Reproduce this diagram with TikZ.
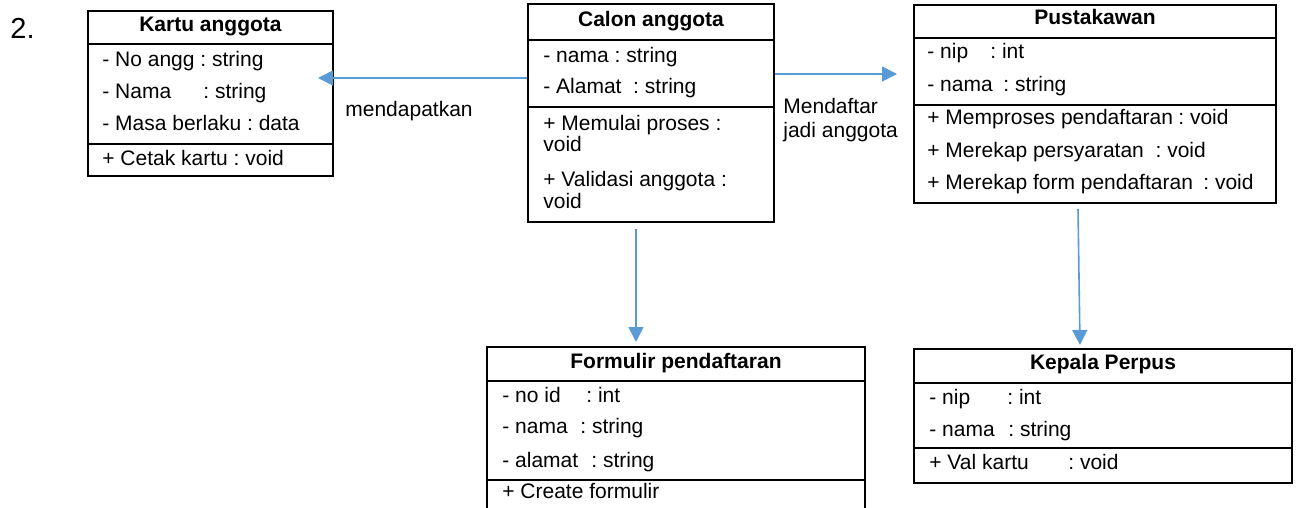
\documentclass[tikz,border=0pt]{standalone}
\usepackage{fontspec}
\setmainfont{Liberation Sans}
\usetikzlibrary{fit,calc,arrows.meta}
\definecolor{linkblue}{HTML}{5B9BD5}
\begin{document}
\frenchspacing
\begin{tikzpicture}[x=0.5pt,y=-0.5pt,
  font=\fontsize{10.5}{12}\selectfont,
  classbox/.style={draw=black, line width=1pt, inner sep=0pt},
  divider/.style={draw=black, line width=1pt},
  row/.style={anchor=base west, inner sep=0pt},
  title/.style={anchor=base, inner sep=0pt, font=\fontsize{10.5}{12}\selectfont\bfseries},
  link/.style={draw=linkblue, line width=0.8pt, -{Triangle[length=7.5pt,width=7.5pt]}},
  note/.style={anchor=base west, inner sep=0pt}
]
\useasboundingbox (0,0) rectangle (1306,508);
\clip (0,0) rectangle (1306,508);

\node[anchor=base west, inner sep=0pt, font=\fontsize{14.5}{16}\selectfont] (num) at (10,39) {2.};

% Kartu anggota
\node[classbox, fit={(88,11) (333,176)}] (kartu) {};
\draw[divider] (kartu.west |- 0,44) -- (kartu.east |- 0,44);
\draw[divider] (kartu.west |- 0,144) -- (kartu.east |- 0,144);
\node[title] (kartuT) at (210.5,32) {Kartu anggota};
\node[row] (kartuA) at (102,67) {- No angg : string};
\node[row] (kartuB) at (102,98) {\makebox[50.5pt][l]{- Nama}: string};
\node[row] (kartuC) at (102,131) {- Masa berlaku : data};
\node[row] (kartuD) at (102,165) {+ Cetak kartu : void};

% Calon anggota
\node[classbox, fit={(528,4) (774,222)}] (calon) {};
\draw[divider] (calon.west |- 0,40) -- (calon.east |- 0,40);
\draw[divider] (calon.west |- 0,107) -- (calon.east |- 0,107);
\node[title] (calonT) at (651,27) {Calon anggota};
\node[row] (calonA) at (543,63) {- nama : string};
\node[row] (calonB) at (543,94) {- Alamat\ \ : string};
\node[row] (calonC) at (543,131) {+ Memulai proses :};
\node[row] (calonD) at (543,152) {void};
\node[row] (calonE) at (543,186) {+ Validasi anggota :};
\node[row] (calonF) at (543,208) {void};

% Pustakawan
\node[classbox, fit={(914,5) (1276,203)}] (pustaka) {};
\draw[divider] (pustaka.west |- 0,38) -- (pustaka.east |- 0,38);
\draw[divider] (pustaka.west |- 0,105) -- (pustaka.east |- 0,105);
\node[title] (pustakaT) at (1095,25) {Pustakawan};
\node[row] (pustakaA) at (927,59) {\makebox[31.5pt][l]{- nip}: int};
\node[row] (pustakaB) at (927,92) {\makebox[38pt][l]{- nama}: string};
\node[row] (pustakaC) at (927,125) {\makebox[125.5pt][l]{+ Memproses pendaftaran}: void};
\node[row] (pustakaD) at (927,157) {+ Merekap persyaratan\ \ : void};
\node[row] (pustakaE) at (927,189) {\makebox[138pt][l]{+ Merekap form pendaftaran}: void};

% Formulir pendaftaran
\node[classbox, fit={(487,347) (865,515)}] (form) {};
\draw[divider] (form.west |- 0,381) -- (form.east |- 0,381);
\draw[divider] (form.west |- 0,480) -- (form.east |- 0,480);
\node[title] (formT) at (676,368) {Formulir pendaftaran};
\node[row] (formA) at (502,402) {\makebox[42pt][l]{- no id}: int};
\node[row] (formB) at (502,433) {\makebox[39pt][l]{- nama}: string};
\node[row] (formC) at (502,467) {\makebox[44.5pt][l]{- alamat}: string};
\node[row] (formD) at (502,498) {+ Create formulir};

% Kepala Perpus
\node[classbox, fit={(914,349) (1292,483)}] (kepala) {};
\draw[divider] (kepala.west |- 0,383) -- (kepala.east |- 0,383);
\draw[divider] (kepala.west |- 0,448) -- (kepala.east |- 0,448);
\node[title] (kepalaT) at (1103,369) {Kepala Perpus};
\node[row] (kepalaA) at (929,404) {\makebox[39pt][l]{- nip}: int};
\node[row] (kepalaB) at (929,436) {\makebox[39.5pt][l]{- nama}: string};
\node[row] (kepalaC) at (929,469) {\makebox[69.5pt][l]{+ Val kartu}: void};

% Associations
\draw[link] (calon.west |- 0,78) -- ($(kartu.east |- 0,78)+(-16,0)$);
\draw[link] (calon.east |- 0,74) -- ($(pustaka.west |- 0,74)+(-16,0)$);
\draw[link] ($(calon.south -| 636,0)+(0,6)$) -- ($(form.north -| 636,0)+(0,-4)$);
\draw[link] ($(pustaka.south -| 1078,0)+(0,5)$) -- ($(kepala.north -| 1080,0)+(0,-3)$);

\node[note] (lblA) at (345,117) {mendapatkan};
\node[note] (lblB) at (783,113) {Mendaftar};
\node[note] (lblC) at (783,138) {jadi anggota};
\end{tikzpicture}
\end{document}
